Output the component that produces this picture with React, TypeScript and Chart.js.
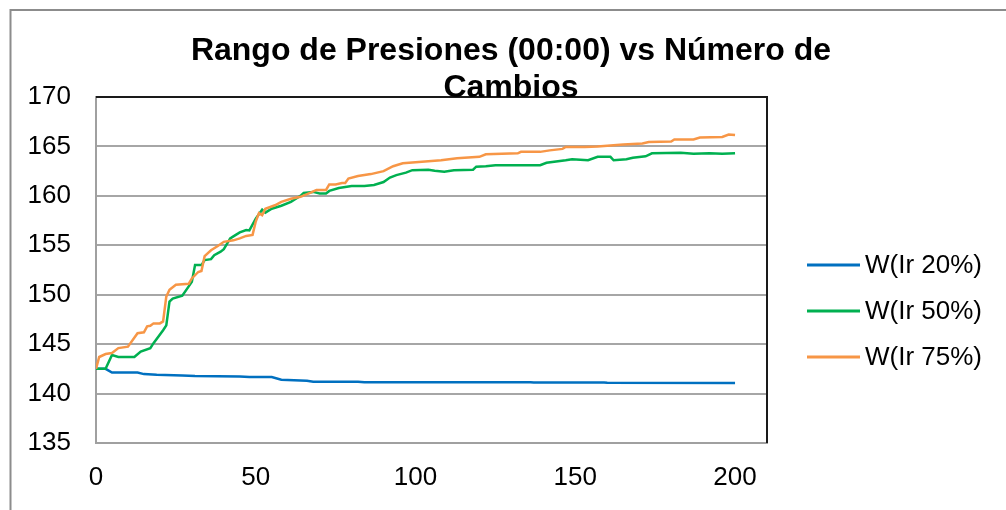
import React, { useEffect, useRef } from "react";
import { Chart, registerables } from "chart.js";

Chart.register(...registerables);

const titleLines = ["Rango de Presiones (00:00) vs Número de", "Cambios"];
const seriesNames = ["W(Ir 20%)", "W(Ir 50%)", "W(Ir 75%)"];
const seriesColors = ["#0070C0", "#00B050", "#F79646"];
const xTickValues = [0, 50, 100, 150, 200];
const xMin = 0;
const xMax = 210;
const yMin = 135;
const yMax = 170;
const yStep = 5;

const blueX = [0, 3, 5, 13, 15, 19, 27, 31, 45, 48, 55, 58, 66, 68, 82, 84, 136, 137, 159, 160, 200];
const blueY = [142.5, 142.5, 142.13, 142.13, 141.97, 141.9, 141.83, 141.77, 141.73, 141.67, 141.67, 141.4, 141.3, 141.2, 141.2, 141.15, 141.15, 141.12, 141.12, 141.1, 141.07];

const greenX = [0, 3, 5, 7, 12, 14, 17, 18, 21, 22, 23, 24, 27, 30, 31, 33, 34, 36, 37, 39, 40, 42, 43, 45, 47, 48, 50, 52, 53, 55, 58, 61, 64, 65, 68, 70, 72, 73, 76, 80, 84, 87, 90, 92, 94, 97, 99, 104, 106, 109, 112, 118, 119, 122, 125, 139, 141, 147, 149, 154, 157, 161, 162, 166, 168, 172, 174, 183, 187, 192, 196, 200];
const greenY = [142.5, 142.5, 143.9, 143.7, 143.7, 144.25, 144.6, 145.1, 146.4, 146.9, 149.3, 149.6, 149.9, 151.3, 153.0, 153.0, 153.5, 153.6, 154.0, 154.35, 154.6, 155.7, 155.9, 156.3, 156.55, 156.5, 157.7, 158.6, 158.3, 158.7, 159.0, 159.4, 160.0, 160.3, 160.4, 160.25, 160.25, 160.5, 160.8, 161.0, 161.0, 161.1, 161.4, 161.85, 162.1, 162.35, 162.6, 162.65, 162.55, 162.45, 162.6, 162.65, 162.95, 163.0, 163.1, 163.1, 163.35, 163.6, 163.7, 163.6, 163.95, 163.95, 163.6, 163.7, 163.85, 164.0, 164.3, 164.35, 164.25, 164.3, 164.25, 164.3];

const orangeX = [0, 1, 3, 5, 7, 10, 13, 15, 16, 17, 18, 20, 21, 22, 23, 25, 29, 30, 32, 33, 34, 36, 38, 40, 43, 45, 47, 49, 50, 51, 52, 53, 56, 58, 61, 64, 67, 69, 72, 73, 75, 77, 78, 79, 82, 86, 90, 93, 96, 102, 108, 113, 120, 122, 132, 133, 139, 142, 146, 147, 153, 157, 165, 171, 173, 180, 181, 187, 189, 196, 198, 200];
const orangeY = [142.5, 143.7, 144.0, 144.1, 144.6, 144.75, 146.1, 146.2, 146.8, 146.85, 147.1, 147.1, 147.3, 149.8, 150.5, 151.0, 151.1, 151.65, 152.3, 152.4, 153.9, 154.5, 154.9, 155.35, 155.5, 155.7, 155.95, 156.05, 157.4, 158.25, 158.05, 158.7, 159.05, 159.4, 159.7, 159.9, 160.3, 160.6, 160.6, 161.15, 161.15, 161.3, 161.3, 161.75, 162.0, 162.2, 162.5, 163.0, 163.3, 163.45, 163.6, 163.8, 163.95, 164.2, 164.3, 164.45, 164.45, 164.6, 164.75, 164.95, 164.95, 165.0, 165.2, 165.3, 165.45, 165.5, 165.7, 165.7, 165.9, 165.95, 166.2, 166.15];

const toPoints = (xs: number[], ys: number[]) => xs.map((x, i) => ({ x, y: ys[i] }));

const FONT = "'Liberation Sans', Arial, sans-serif";

const decorPlugin = {
  id: "decor",
  beforeDraw(chart: any) {
    const ctx = chart.ctx;
    ctx.save();
    ctx.fillStyle = "#ffffff";
    ctx.fillRect(0, 0, chart.width, chart.height);
    ctx.strokeStyle = "#8C8C8C";
    ctx.lineWidth = 2;
    ctx.beginPath();
    ctx.moveTo(10.5, chart.height);
    ctx.lineTo(10.5, 10);
    ctx.lineTo(chart.width, 10);
    ctx.stroke();
    ctx.restore();
  },
  afterDraw(chart: any) {
    const ctx = chart.ctx;
    const a = chart.chartArea;
    ctx.save();
    ctx.strokeStyle = "#1a1a1a";
    ctx.lineWidth = 2;
    ctx.beginPath();
    ctx.moveTo(a.left, a.top);
    ctx.lineTo(a.right, a.top);
    ctx.lineTo(a.right, a.bottom);
    ctx.stroke();

    ctx.fillStyle = "#000000";
    ctx.font = "bold 32px " + FONT;
    ctx.textAlign = "center";
    ctx.textBaseline = "alphabetic";
    ctx.fillText(titleLines[0], 511, 60);
    ctx.fillText(titleLines[1], 511, 97);

    ctx.font = "26px " + FONT;
    ctx.textAlign = "left";
    ctx.textBaseline = "middle";
    const legendY = [265, 311, 357];
    seriesNames.forEach((name, i) => {
      ctx.strokeStyle = seriesColors[i];
      ctx.lineWidth = 3;
      ctx.beginPath();
      ctx.moveTo(807, legendY[i]);
      ctx.lineTo(860, legendY[i]);
      ctx.stroke();
      ctx.fillStyle = "#000000";
      ctx.fillText(name, 865, legendY[i] + 1);
    });
    ctx.restore();
  },
};

export default function App() {
  const canvasRef = useRef<HTMLCanvasElement | null>(null);

  useEffect(() => {
    const canvas = canvasRef.current;
    if (!canvas) return;
    const chart = new Chart(canvas, {
      type: "line",
      data: {
        datasets: [
          {
            label: seriesNames[0],
            data: toPoints(blueX, blueY),
            borderColor: seriesColors[0],
            backgroundColor: seriesColors[0],
            borderWidth: 2.5,
            pointRadius: 0,
            tension: 0,
            order: 2,
          },
          {
            label: seriesNames[1],
            data: toPoints(greenX, greenY),
            borderColor: seriesColors[1],
            backgroundColor: seriesColors[1],
            borderWidth: 2.5,
            pointRadius: 0,
            tension: 0,
            order: 1,
          },
          {
            label: seriesNames[2],
            data: toPoints(orangeX, orangeY),
            borderColor: seriesColors[2],
            backgroundColor: seriesColors[2],
            borderWidth: 2.5,
            pointRadius: 0,
            tension: 0,
            order: 0,
          },
        ],
      },
      options: {
        responsive: false,
        animation: false,
        events: [],
        layout: { padding: { top: 97, right: 239, bottom: 0, left: 0 } },
        plugins: {
          legend: { display: false },
          title: { display: false },
          tooltip: { enabled: false },
        },
        scales: {
          x: {
            type: "linear",
            min: xMin,
            max: xMax,
            afterBuildTicks: (scale: any) => {
              scale.ticks = xTickValues.map((v) => ({ value: v }));
            },
            afterFit: (scale: any) => {
              scale.height = 67;
            },
            grid: { display: false, drawTicks: false },
            border: { display: true, color: "#A0A0A0", width: 2 },
            ticks: {
              color: "#000000",
              font: { family: FONT, size: 26 },
              padding: 19,
              maxRotation: 0,
              autoSkip: false,
            },
          },
          y: {
            type: "linear",
            min: yMin,
            max: yMax,
            afterFit: (scale: any) => {
              scale.width = 96;
            },
            grid: { color: "#A6A6A6", lineWidth: 2, drawTicks: false },
            border: { display: true, color: "#A0A0A0", width: 2 },
            ticks: {
              stepSize: yStep,
              color: "#000000",
              font: { family: FONT, size: 26 },
              padding: 25,
            },
          },
        },
      },
      plugins: [decorPlugin],
    } as any);
    return () => chart.destroy();
  }, []);

  return (
    <div style={{ position: "absolute", left: 0, top: 0, width: 1006, height: 510 }}>
      <canvas ref={canvasRef} width={1006} height={510} style={{ width: 1006, height: 510, display: "block" }} />
    </div>
  );
}
